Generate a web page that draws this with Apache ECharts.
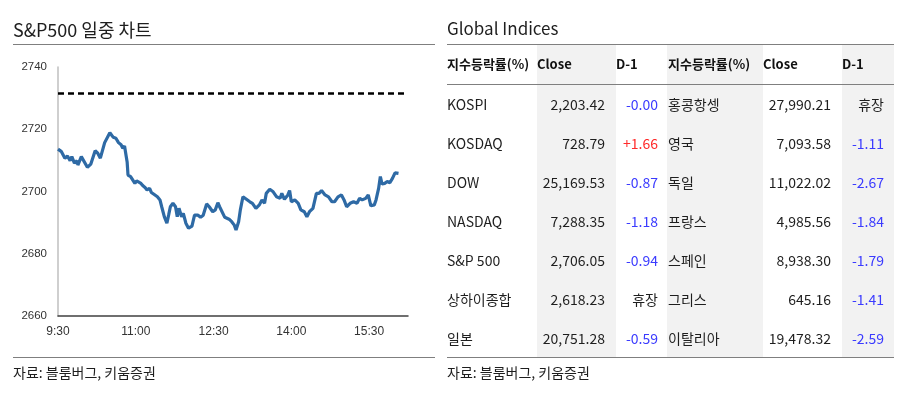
<!DOCTYPE html>
<html>
<head>
<meta charset="utf-8">
<script src="https://cdn.jsdelivr.net/npm/echarts@6/dist/echarts.min.js"></script>
<style>
html,body{margin:0;padding:0;background:#fff;}
#c{width:909px;height:396px;}
</style>
</head>
<body>
<div id="c"></div>
<script>
// ---- Intraday S&P500 data (minutes after 9:30 open, index level) ----
const minutes = [0,4,8,11,14,16,19,22,23,27,29,34,38,43,46,49,54,56,60,64,67,70,73,75,77,79,80,81,84,86,89,91,93,96,98,101,103,106,108,111,115,118,120,123,126,128,130,133,136,138,140,143,145,148,151,153,155,158,162,165,168,172,175,179,182,185,187,189,193,198,201,204,206,209,211,214,218,222,225,229,233,236,239,241,245,249,253,257,259,262,266,268,270,274,278,281,285,288,291,295,299,302,305,309,313,317,320,324,328,331,334,338,342,346,349,352,356,359,362,366,368,371,373,375,378,381,384,387,390,394];
const levels = [2713.6,2712.8,2710.7,2711.4,2709.9,2711.2,2709.1,2709.9,2708.5,2711.2,2711.7,2707.8,2708.8,2713.1,2712.3,2710.7,2715.7,2716.0,2718.9,2717.4,2717.1,2715.7,2715.0,2713.9,2714.6,2711.2,2709.5,2705.3,2704.8,2704.2,2702.6,2703.4,2704.0,2702.6,2701.9,2701.2,2700.5,2701.0,2699.7,2699.1,2698.3,2697.3,2695.1,2691.9,2689.8,2692.4,2695.1,2696.2,2695.1,2691.9,2694.6,2691.9,2693.0,2689.8,2688.2,2687.6,2688.9,2692.4,2692.4,2691.7,2692.4,2696.0,2695.1,2693.5,2694.1,2696.4,2695.1,2694.6,2691.7,2691.1,2690.3,2689.2,2687.6,2690.3,2694.1,2698.3,2697.5,2696.7,2696.2,2694.6,2695.7,2697.3,2696.2,2699.4,2700.7,2699.9,2698.3,2697.8,2699.4,2697.5,2698.9,2700.3,2696.7,2697.3,2696.2,2694.1,2693.5,2691.9,2693.5,2694.6,2699.4,2699.4,2700.3,2698.9,2698.3,2696.7,2696.7,2698.3,2698.9,2697.3,2695.1,2696.2,2696.7,2696.2,2697.8,2697.3,2697.8,2698.9,2695.4,2695.7,2697.3,2701.0,2704.8,2702.4,2702.6,2703.2,2702.8,2704.2,2706.0,2705.8];
const prevClose = 2731.7;
const xTickLabels = ['9:30','11:00','12:30','14:00','15:30'];
const yTicks = [2660,2680,2700,2720,2740];

// ---- Global indices table ----
const headers = ['지수등락률(%)','Close','D-1'];
const names1 = ['KOSPI','KOSDAQ','DOW','NASDAQ','S&P 500','상하이종합','일본'];
const close1 = ['2,203.42','728.79','25,169.53','7,288.35','2,706.05','2,618.23','20,751.28'];
const chg1 = ['-0.00','+1.66','-0.87','-1.18','-0.94','휴장','-0.59'];
const names2 = ['홍콩항셍','영국','독일','프랑스','스페인','그리스','이탈리아'];
const close2 = ['27,990.21','7,093.58','11,022.02','4,985.56','8,938.30','645.16','19,478.32'];
const chg2 = ['휴장','-1.11','-2.67','-1.84','-1.79','-1.41','-2.59'];

const KR = '"Noto Sans CJK KR","Noto Sans",sans-serif';
const TXT = '#1e1e1e';

function chgColor(s){
  if (s.charAt(0)==='-') return '#3b3bff';
  if (s.charAt(0)==='+') return '#ff2a2a';
  return TXT;
}

const g = [];
// left panel
g.push({type:'text', style:{text:'S&P500 일중 차트', x:13, y:30, textVerticalAlign:'middle', fontSize:18, fontFamily:KR, fill:TXT}});
g.push({type:'line', shape:{x1:13,y1:44.5,x2:435,y2:44.5}, style:{stroke:'#7f7f7f', lineWidth:1}});
g.push({type:'line', shape:{x1:13,y1:357.5,x2:435,y2:357.5}, style:{stroke:'#7f7f7f', lineWidth:1}});
g.push({type:'text', style:{text:'자료: 블룸버그, 키움증권', x:13, y:373, textVerticalAlign:'middle', fontSize:14, fontFamily:KR, fill:TXT}});

// right panel
const colEdges = [447,537,616,667,763,842,894];
const greyCols = [1,3,5];
greyCols.forEach(function(ci){
  g.push({type:'rect', shape:{x:colEdges[ci], y:45, width:colEdges[ci+1]-colEdges[ci], height:312}, style:{fill:'#f2f2f2'}});
});
g.push({type:'text', style:{text:'Global Indices', x:447, y:29, textVerticalAlign:'middle', fontSize:17, fontFamily:KR, fill:TXT}});
g.push({type:'line', shape:{x1:447,y1:44.5,x2:894,y2:44.5}, style:{stroke:'#7f7f7f', lineWidth:1}});
g.push({type:'line', shape:{x1:447,y1:84.5,x2:894,y2:84.5}, style:{stroke:'#7f7f7f', lineWidth:1}});
g.push({type:'line', shape:{x1:447,y1:357.5,x2:894,y2:357.5}, style:{stroke:'#7f7f7f', lineWidth:1}});
g.push({type:'text', style:{text:'자료: 블룸버그, 키움증권', x:447, y:373, textVerticalAlign:'middle', fontSize:14, fontFamily:KR, fill:TXT}});

const headerX = [447,537,616,668,763,842];
for (let k=0;k<6;k++){
  g.push({type:'text', style:{text:headers[k%3], x:headerX[k], y:64, textVerticalAlign:'middle', fontSize:13, fontWeight:'bold', fontFamily:KR, fill:'#111'}});
}
const rowY0 = 105, rowH = 38.9;
for (let i=0;i<names1.length;i++){
  const y = rowY0 + i*rowH;
  g.push({type:'text', style:{text:names1[i], x:447, y:y, textVerticalAlign:'middle', fontSize:14, fontFamily:KR, fill:TXT}});
  g.push({type:'text', style:{text:close1[i], x:605, y:y, textAlign:'right', textVerticalAlign:'middle', fontSize:14, fontFamily:KR, fill:TXT}});
  g.push({type:'text', style:{text:chg1[i], x:658, y:y, textAlign:'right', textVerticalAlign:'middle', fontSize:14, fontFamily:KR, fill:chgColor(chg1[i])}});
  g.push({type:'text', style:{text:names2[i], x:668, y:y, textVerticalAlign:'middle', fontSize:14, fontFamily:KR, fill:TXT}});
  g.push({type:'text', style:{text:close2[i], x:831, y:y, textAlign:'right', textVerticalAlign:'middle', fontSize:14, fontFamily:KR, fill:TXT}});
  g.push({type:'text', style:{text:chg2[i], x:884, y:y, textAlign:'right', textVerticalAlign:'middle', fontSize:14, fontFamily:KR, fill:chgColor(chg2[i])}});
}

function minToClock(m){
  const t = 9*60+30+m;
  const h = Math.floor(t/60), mm = t%60;
  return h + ':' + (mm<10?'0':'') + mm;
}

const chart = echarts.init(document.getElementById('c'), null, {renderer:'canvas'});
chart.setOption({
  animation:false,
  backgroundColor:'#ffffff',
  grid:{left:58, right:501, top:67, bottom:80, containLabel:false},
  xAxis:{
    type:'value', min:0, max:405, interval:90,
    axisLine:{show:true, lineStyle:{color:'#404040', width:1.5}},
    axisTick:{show:false},
    splitLine:{show:false},
    axisLabel:{
      showMaxLabel:false, margin:10, color:'#333', fontSize:12, fontFamily:'"Liberation Sans",Arial,sans-serif',
      formatter:function(v){ const s = minToClock(v); return xTickLabels.indexOf(s)>=0 ? s : ''; }
    }
  },
  yAxis:{
    type:'value', min:yTicks[0], max:yTicks[yTicks.length-1], interval:20,
    axisLine:{show:true, lineStyle:{color:'#bfbfbf', width:1.5}},
    axisTick:{show:false},
    splitLine:{show:false},
    axisLabel:{margin:11, color:'#333', fontSize:11.5, fontFamily:'"Liberation Sans",Arial,sans-serif',
      formatter:function(v){ return String(v); }}
  },
  series:[{
    type:'line',
    data:minutes.map(function(m,i){return [m, levels[i]];}),
    showSymbol:false,
    symbol:'none',
    lineStyle:{color:'#2e6aa5', width:3.2},
    markLine:{
      silent:true, symbol:'none',
      label:{show:false},
      lineStyle:{color:'#000', type:[6,4], width:2.5},
      data:[{yAxis:prevClose}]
    }
  }],
  graphic:g
});
</script>
</body>
</html>
